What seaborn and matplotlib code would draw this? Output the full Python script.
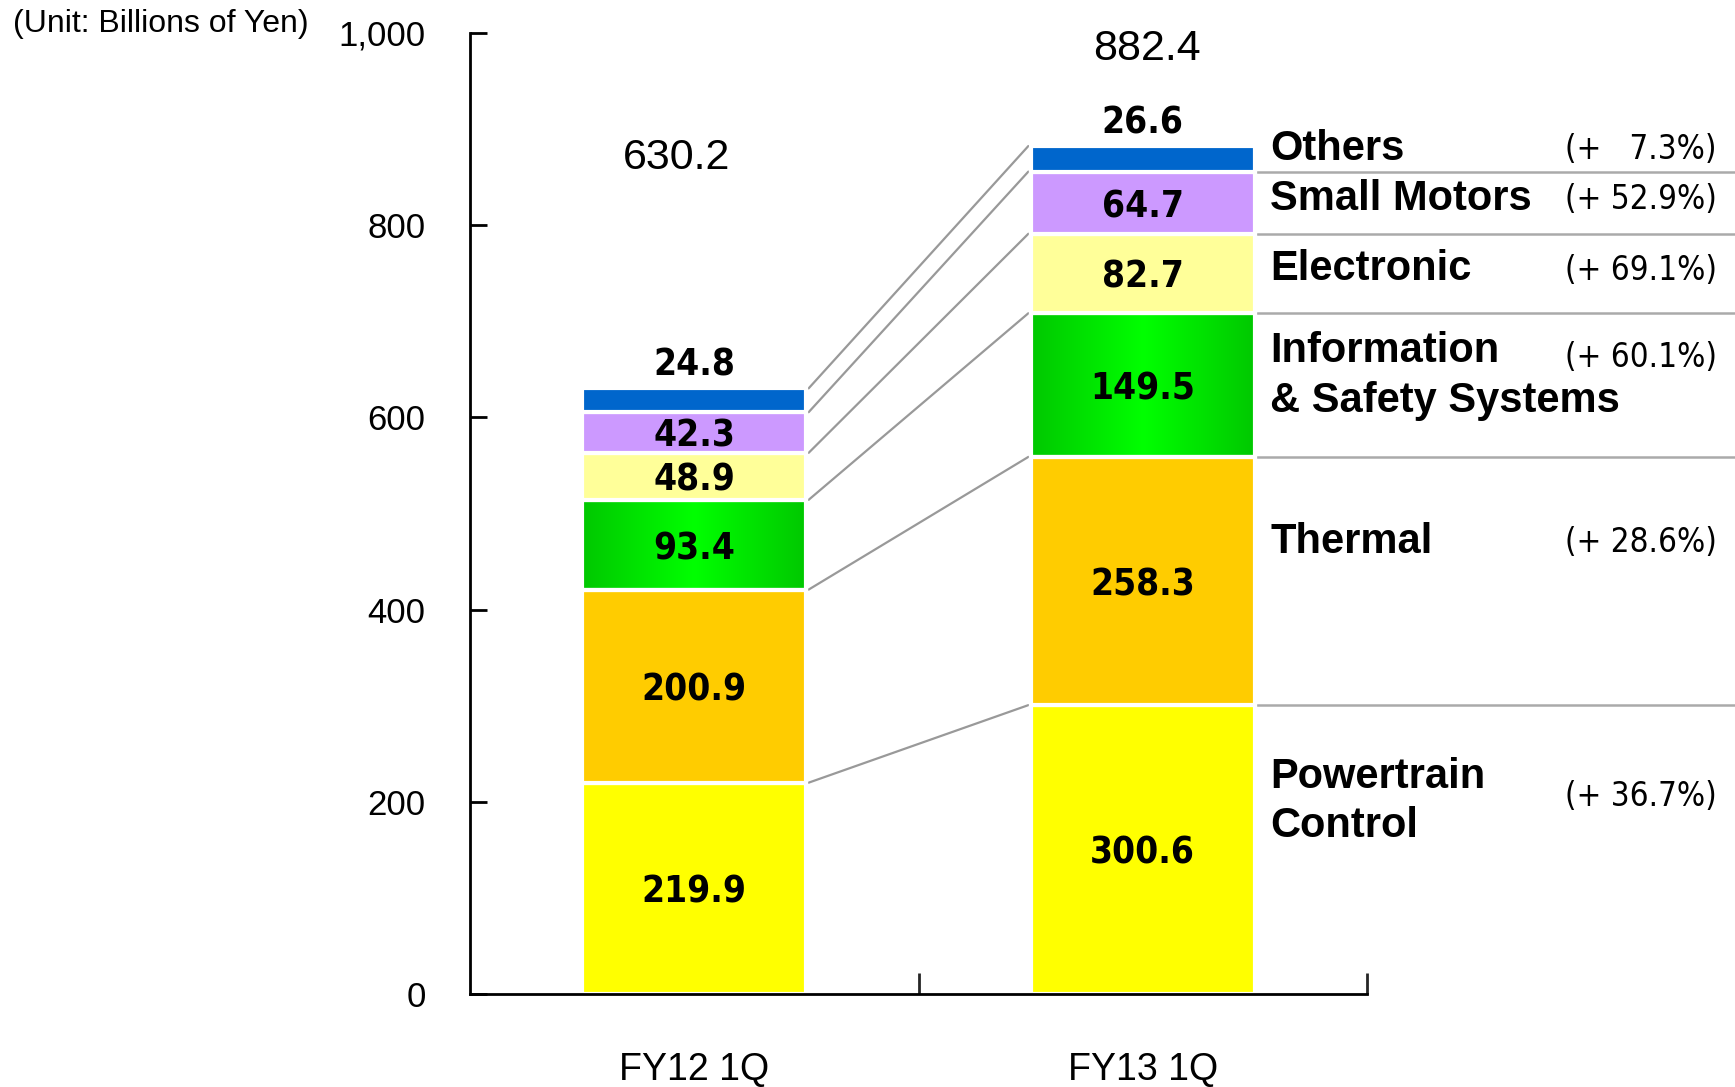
import matplotlib
matplotlib.use("Agg")
import matplotlib.pyplot as plt
import seaborn as sns
import numpy as np
from matplotlib import font_manager
from matplotlib.colors import LinearSegmentedColormap

# Sales by product segment (Billions of Yen)
periods = ["FY12 1Q", "FY13 1Q"]
segments = ["Powertrain Control", "Thermal", "Information & Safety Systems",
            "Electronic", "Small Motors", "Others"]
fy12_values = [219.9, 200.9, 93.4, 48.9, 42.3, 24.8]
fy13_values = [300.6, 258.3, 149.5, 82.7, 64.7, 26.6]
totals = [630.2, 882.4]
side_labels = [["Powertrain", "Control"], ["Thermal"], ["Information", "& Safety Systems"],
               ["Electronic"], ["Small Motors"], ["Others"]]
growth_labels = ["(+ 36.7%)", "(+ 28.6%)", "(+ 60.1%)", "(+ 69.1%)", "(+ 52.9%)", "(+   7.3%)"]
yticks = [0, 200, 400, 600, 800, 1000]

colors = ["#ffff00", "#ffcc00", "#00e600", "#ffff99", "#cc99ff", "#0066cc"]

sns.set_theme(style="white")
plt.rcParams["font.family"] = ["Liberation Sans", "DejaVu Sans"]
plt.rcParams["text.color"] = "black"

# pick a condensed face for the numbers if one is installed
fonts = font_manager.fontManager.ttflist
names = {f.name for f in fonts}
if "Liberation Sans Narrow" in names:
    num_font = dict(family=["Liberation Sans Narrow"], fontstretch="normal")
    num_scale = 1.0
elif any(f.name == "DejaVu Sans" and f.stretch == "condensed" for f in fonts):
    num_font = dict(family=["DejaVu Sans"], fontstretch="condensed")
    num_scale = 0.95
else:
    num_font = dict(family=["Liberation Sans"], fontstretch="normal")
    num_scale = 0.9

fig = plt.figure(figsize=(17.35, 10.87), dpi=100)
ax = fig.add_axes([470 / 1735, 1 - 994 / 1087, 897 / 1735, 961 / 1087])

vals = np.array([fy12_values, fy13_values])  # shape (2, 6)
bottoms = np.zeros(2)
green_patches = []
for i, seg in enumerate(segments):
    n_before = len(ax.patches)
    sns.barplot(x=periods, y=vals[:, i], bottom=bottoms, color=colors[i],
                width=0.5, edgecolor="white", linewidth=3, saturation=1, ax=ax)
    if i == 2:
        green_patches = ax.patches[n_before:]
    bottoms = bottoms + vals[:, i]

# horizontal gradient on the Information & Safety Systems segment
gcmap = LinearSegmentedColormap.from_list("g", ["#00c800", "#00ff00", "#00c800"])
grad = np.linspace(0, 1, 256).reshape(1, -1)
for p in green_patches:
    x0, y0 = p.get_x(), p.get_y()
    w, h = p.get_width(), p.get_height()
    im = ax.imshow(grad, cmap=gcmap, aspect="auto", extent=[x0, x0 + w, y0, y0 + h],
                   zorder=0.5, interpolation="bicubic")
    im.set_clip_path(p)
    p.set_facecolor("none")

ax.set_xlim(-0.5, 1.5)
ax.set_ylim(0, 1000)

tops = np.cumsum(vals, axis=1)
mids = tops - vals / 2

# connectors between bars
for i in range(len(segments)):
    ax.plot([0.255, 0.745], [tops[0, i], tops[1, i]], color="#999999", lw=1.6, zorder=0.4)

# horizontal dividers on the right side
for i in range(len(segments) - 1):
    ax.plot([1.255, 2.4], [tops[1, i], tops[1, i]], color="#aaaaaa", lw=1.8,
            clip_on=False, zorder=0.4)

# value labels
for b in range(2):
    for i in range(len(segments)):
        if i == len(segments) - 1:
            y = tops[b, i] + 24
        else:
            y = mids[b, i] - 4
        ax.text(b, y, f"{vals[b, i]:.1f}", ha="center", va="center",
                fontsize=28 * num_scale, fontweight="bold", color="black", **num_font)

# totals
ax.text(-0.04, 870, f"{totals[0]:.1f}", ha="center", va="center",
        fontsize=31, color="black")
ax.text(1.01, 983, f"{totals[1]:.1f}", ha="center", va="center",
        fontsize=31, color="black", clip_on=False)

# segment names (one text per line) and growth rates
side_y = [[226, 175], [470], [669, 617], [754], [827], [879]]
growth_y = [205, 470, 662, 753, 827, 879]
for i in range(len(segments)):
    for line, y in zip(side_labels[i], side_y[i]):
        ax.text(1.284, y, line, ha="left", va="center", fontsize=30,
                fontweight="bold", color="black", clip_on=False)
    ax.text(2.28, growth_y[i], growth_labels[i], ha="right", va="center",
            fontsize=25 * num_scale, color="black", clip_on=False, **num_font)

# axes styling
sns.despine(ax=ax, top=True, right=True)
for s in ["left", "bottom"]:
    ax.spines[s].set_color("black")
    ax.spines[s].set_linewidth(2)
ax.set_yticks(yticks)
ax.set_yticklabels([f"{v:,}" for v in yticks])
ax.tick_params(axis="y", direction="in", length=12, width=2, pad=32, labelsize=25,
               left=True, colors="black")
ax.set_xticks([0, 1])
ax.set_xticklabels(periods)
ax.tick_params(axis="x", length=0, pad=42, labelsize=27, colors="black")
ax.set_xticks([0.5, 1.5], minor=True)
ax.tick_params(axis="x", which="minor", direction="in", length=15, width=2, bottom=True)
ax.set_xlabel("")
ax.set_ylabel("")
ax.grid(False)

fig.text(13 / 1735, 1 - 24 / 1087, "(Unit: Billions of Yen)", ha="left", va="center",
         fontsize=23, color="black")

fig.savefig("out.png", dpi=100)
